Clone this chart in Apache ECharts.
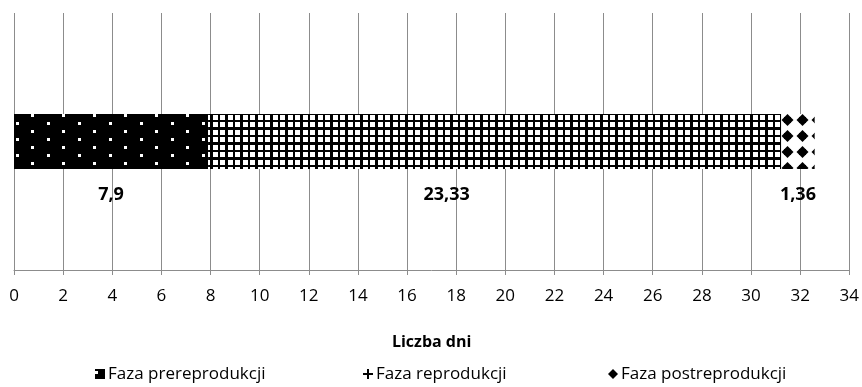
<!DOCTYPE html>
<html>
<head>
<meta charset="utf-8">
<script src="https://cdn.jsdelivr.net/npm/echarts@6/dist/echarts.min.js"></script>
<style>html,body{margin:0;padding:0;background:#fff}#c{width:862px;height:387px}</style>
</head>
<body>
<div id="c"></div>
<script>
const categories = ['Fazy'];
const seriesNames = ['Faza prereprodukcji', 'Faza reprodukcji', 'Faza postreprodukcji'];
const valPre = [7.9];
const valRep = [23.33];
const valPost = [1.36];
const xTicks = {min: 0, max: 34, interval: 2};
const axisTitle = 'Liczba dni';

function mk(w, h, draw) {
  const c = document.createElement('canvas');
  c.width = w; c.height = h;
  const g = c.getContext('2d');
  draw(g);
  return {image: c, repeat: 'repeat'};
}
const patPre = mk(31, 16, g => {
  g.fillStyle = '#000'; g.fillRect(0, 0, 31, 16);
  g.fillStyle = '#fff';
  g.fillRect(0, 2, 3, 3);
  g.fillRect(16, 10, 3, 3);
});
const patRep = mk(15, 15, g => {
  g.fillStyle = '#fff'; g.fillRect(0, 0, 15, 15);
  g.fillStyle = '#000';
  g.fillRect(0, 0, 3, 15); g.fillRect(8, 0, 2, 15);
  g.fillRect(0, 0, 15, 2); g.fillRect(0, 7, 15, 3);
});
const patPost = mk(15, 16, g => {
  g.fillStyle = '#fff'; g.fillRect(0, 0, 15, 16);
  g.fillStyle = '#000';
  g.beginPath();
  g.moveTo(7.5, 2); g.lineTo(13.5, 8); g.lineTo(7.5, 14); g.lineTo(1.5, 8); g.closePath();
  g.fill();
  g.fillRect(4, 5, 7, 6);
});

const FONT = 'Open Sans';
const fmt = v => String(v).replace('.', ',');
const lblBase = {show: true, position: 'bottom', distance: 17, color: '#000', fontWeight: 'bold', fontSize: 18, fontFamily: FONT, formatter: p => fmt(p.value)};

const chart = echarts.init(document.getElementById('c'), null, {renderer: 'canvas'});
const legendCommon = {top: 364, padding: 0, itemWidth: 10, itemHeight: 10, itemGap: 4,
  textStyle: {fontFamily: FONT, fontSize: 17, color: '#000', lineHeight: 20, padding: [0, 0, 0, -2]}};
chart.setOption({
  animation: false,
  grid: {left: 14, right: 11, top: 13, bottom: 117},
  legend: [
    Object.assign({}, legendCommon, {left: 95, data: [{name: seriesNames[0], icon: 'rect'}]}),
    Object.assign({}, legendCommon, {left: 363, data: [{name: seriesNames[1], icon: 'path://M4,0H6V4H10V6H6V10H4V6H0V4H4Z', itemStyle: {color: '#000'}}]}),
    Object.assign({}, legendCommon, {left: 608, data: [{name: seriesNames[2], icon: 'path://M5,0L10,5L5,10L0,5Z', itemStyle: {color: '#000'}}]})
  ],
  xAxis: {
    type: 'value', min: xTicks.min, max: xTicks.max, interval: xTicks.interval,
    name: axisTitle, nameLocation: 'middle', nameGap: 64,
    nameTextStyle: {fontFamily: FONT, fontWeight: 'bold', fontSize: 16, color: '#000'},
    axisLine: {show: true, lineStyle: {color: '#8c8c8c', width: 1}},
    axisTick: {show: true, length: 5, lineStyle: {color: '#8c8c8c'}},
    axisLabel: {fontFamily: FONT, fontSize: 17, color: '#000', margin: 18},
    splitLine: {show: true, lineStyle: {color: '#8c8c8c', width: 1}}
  },
  yAxis: {type: 'category', data: categories, show: false},
  series: [
    {name: seriesNames[0], type: 'bar', stack: 's', barWidth: 55, data: valPre, itemStyle: {color: patPre}, label: lblBase},
    {name: seriesNames[1], type: 'bar', stack: 's', barWidth: 55, data: valRep, itemStyle: {color: patRep}, label: Object.assign({}, lblBase, {offset: [-48, 0]})},
    {name: seriesNames[2], type: 'bar', stack: 's', barWidth: 55, data: valPost, itemStyle: {color: patPost}, label: lblBase}
  ]
});
</script>
</body>
</html>
